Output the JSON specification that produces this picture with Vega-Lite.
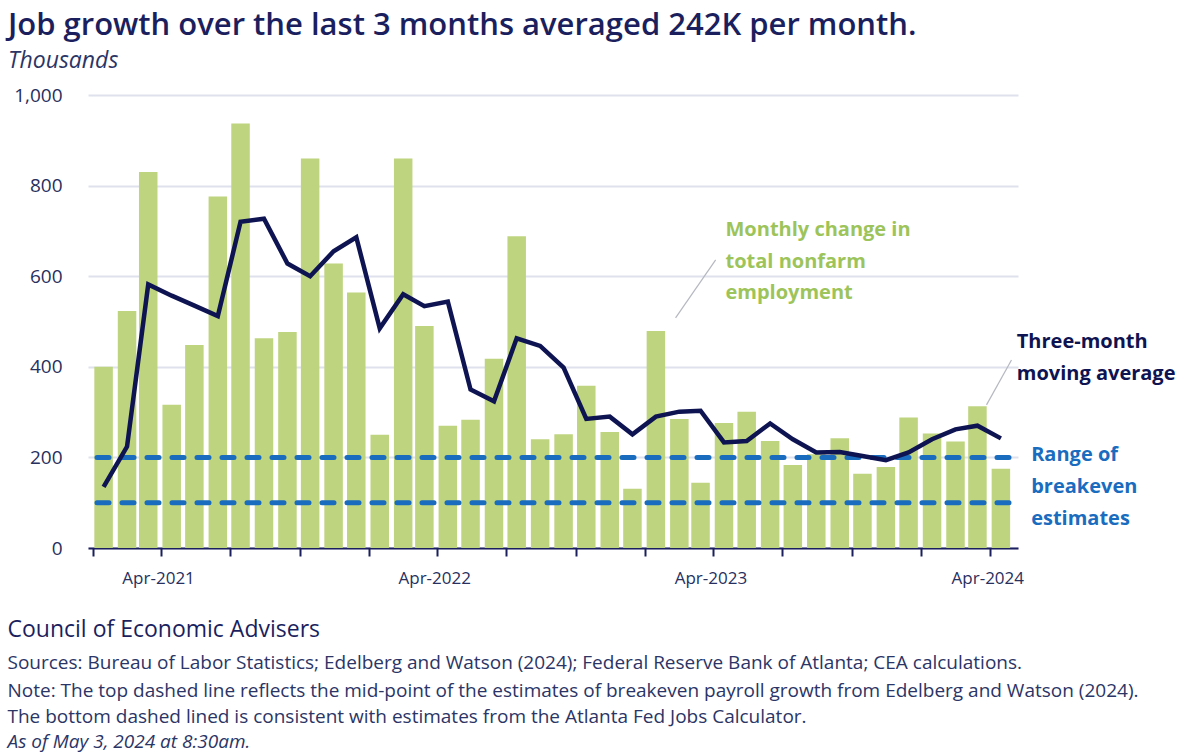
{
  "$schema": "https://vega.github.io/schema/vega-lite/v6.json",
  "autosize": {"type": "none"},
  "padding": {"left": 88, "top": 95, "right": 182, "bottom": 207},
  "width": 930,
  "height": 453,
  "background": "white",
  "config": {
    "view": {"stroke": null},
    "font": "Open Sans"
  },
  "title": {
    "text": "Job growth over the last 3 months averaged 242K per month.",
    "subtitle": "Thousands",
    "anchor": "start",
    "frame": "group",
    "dx": -80,
    "offset": 12,
    "font": "Open Sans",
    "fontSize": 31,
    "fontWeight": 600,
    "color": "#1b1f5e",
    "subtitleFont": "Open Sans",
    "subtitleFontSize": 23,
    "subtitleFontStyle": "italic",
    "subtitleColor": "#2b3566",
    "subtitlePadding": 8
  },
  "encoding": {
    "x": {
      "field": "date",
      "type": "temporal",
      "scale": {
        "type": "utc",
        "nice": false,
        "domain": [
          {"year": 2021, "month": 1, "date": 1, "utc": true},
          {"year": 2024, "month": 5, "date": 1, "utc": true}
        ]
      },
      "axis": {
        "title": null,
        "grid": false,
        "values": [
          {"year": 2021, "month": 1, "date": 1, "utc": true},
          {"year": 2021, "month": 4, "date": 1, "utc": true},
          {"year": 2021, "month": 7, "date": 1, "utc": true},
          {"year": 2021, "month": 10, "date": 1, "utc": true},
          {"year": 2022, "month": 1, "date": 1, "utc": true},
          {"year": 2022, "month": 4, "date": 1, "utc": true},
          {"year": 2022, "month": 7, "date": 1, "utc": true},
          {"year": 2022, "month": 10, "date": 1, "utc": true},
          {"year": 2023, "month": 1, "date": 1, "utc": true},
          {"year": 2023, "month": 4, "date": 1, "utc": true},
          {"year": 2023, "month": 7, "date": 1, "utc": true},
          {"year": 2023, "month": 10, "date": 1, "utc": true},
          {"year": 2024, "month": 1, "date": 1, "utc": true},
          {"year": 2024, "month": 4, "date": 1, "utc": true}
        ],
        "labelExpr": "utcmonth(datum.value) == 3 ? utcFormat(datum.value, '%b-%Y') : ''",
        "labelOverlap": false,
        "labelFlush": false,
        "domainColor": "#1b1f5e",
        "domainWidth": 2,
        "tickColor": "#1b1f5e",
        "tickWidth": 2,
        "tickSize": 8,
        "labelFont": "Open Sans",
        "labelFontSize": 17,
        "labelColor": "#27305e",
        "labelPadding": 14,
        "labelOffset": -3
      }
    },
    "y": {
      "field": "value",
      "type": "quantitative",
      "scale": {"domain": [0, 1000], "nice": false},
      "axis": {
        "title": null,
        "values": [0, 200, 400, 600, 800, 1000],
        "format": ",d",
        "grid": true,
        "gridColor": "#dfe1ec",
        "gridWidth": 2,
        "domain": false,
        "ticks": false,
        "labelPadding": 26,
        "labelFont": "Open Sans",
        "labelFontSize": 19,
        "labelColor": "#27305e"
      }
    }
  },
  "datasets": {
    "jobs": [
      {"date": "2021-01-15", "value": 400, "avg": 135},
      {"date": "2021-02-15", "value": 523, "avg": 224},
      {"date": "2021-03-15", "value": 830, "avg": 582},
      {"date": "2021-04-15", "value": 316, "avg": 557},
      {"date": "2021-05-15", "value": 448, "avg": 535},
      {"date": "2021-06-15", "value": 776, "avg": 512},
      {"date": "2021-07-15", "value": 937, "avg": 720},
      {"date": "2021-08-15", "value": 463, "avg": 727},
      {"date": "2021-09-15", "value": 477, "avg": 628},
      {"date": "2021-10-15", "value": 860, "avg": 600},
      {"date": "2021-11-15", "value": 628, "avg": 655},
      {"date": "2021-12-15", "value": 564, "avg": 686},
      {"date": "2022-01-15", "value": 250, "avg": 485},
      {"date": "2022-02-15", "value": 860, "avg": 560},
      {"date": "2022-03-15", "value": 490, "avg": 534},
      {"date": "2022-04-15", "value": 270, "avg": 544},
      {"date": "2022-05-15", "value": 283, "avg": 350},
      {"date": "2022-06-15", "value": 418, "avg": 324},
      {"date": "2022-07-15", "value": 688, "avg": 463},
      {"date": "2022-08-15", "value": 240, "avg": 446},
      {"date": "2022-09-15", "value": 251, "avg": 398},
      {"date": "2022-10-15", "value": 358, "avg": 285},
      {"date": "2022-11-15", "value": 256, "avg": 290},
      {"date": "2022-12-15", "value": 131, "avg": 251},
      {"date": "2023-01-15", "value": 479, "avg": 290},
      {"date": "2023-02-15", "value": 285, "avg": 301},
      {"date": "2023-03-15", "value": 144, "avg": 303},
      {"date": "2023-04-15", "value": 276, "avg": 233},
      {"date": "2023-05-15", "value": 301, "avg": 236},
      {"date": "2023-06-15", "value": 236, "avg": 275},
      {"date": "2023-07-15", "value": 183, "avg": 240},
      {"date": "2023-08-15", "value": 207, "avg": 211},
      {"date": "2023-09-15", "value": 242, "avg": 212},
      {"date": "2023-10-15", "value": 164, "avg": 203},
      {"date": "2023-11-15", "value": 179, "avg": 194},
      {"date": "2023-12-15", "value": 288, "avg": 211},
      {"date": "2024-01-15", "value": 253, "avg": 240},
      {"date": "2024-02-15", "value": 235, "avg": 262},
      {"date": "2024-03-15", "value": 313, "avg": 270},
      {"date": "2024-04-15", "value": 175, "avg": 242}
    ]
  },
  "layer": [
    {
      "data": {"name": "jobs"},
      "mark": {"type": "bar", "color": "#bed47f", "size": 18.5}
    },
    {
      "data": {"values": [{"value": 200}, {"value": 100}]},
      "mark": {"type": "rule", "color": "#1a6cbf", "strokeWidth": 5, "strokeDash": [12, 13], "strokeCap": "round", "strokeDashOffset": -9},
      "encoding": {"x": null, "y": {"field": "value", "type": "quantitative"}}
    },
    {
      "data": {"name": "jobs"},
      "mark": {"type": "line", "color": "#0e1352", "strokeWidth": 4.5, "strokeJoin": "miter"},
      "encoding": {"y": {"field": "avg", "type": "quantitative"}}
    },
    {
      "data": {"values": [
        {"date": "2023-02-10", "value": 508, "date2": "2023-04-04", "value2": 636},
        {"date": "2024-03-27", "value": 316, "date2": "2024-04-29", "value2": 415}
      ]},
      "mark": {"type": "rule", "color": "#b5b8c0", "strokeWidth": 1.2},
      "encoding": {"x2": {"field": "date2"}, "y2": {"field": "value2"}}
    },
    {
      "data": {"values": [
        {"date": "2023-04-17", "value": 702, "label": "Monthly change in"},
        {"date": "2023-04-17", "value": 631, "label": "total nonfarm"},
        {"date": "2023-04-17", "value": 563, "label": "employment"}
      ]},
      "mark": {"type": "text", "align": "left", "baseline": "middle", "font": "Open Sans", "fontSize": 20, "fontWeight": "bold", "color": "#9cc45a"},
      "encoding": {"text": {"field": "label"}}
    },
    {
      "data": {"values": [
        {"date": "2024-05-06", "value": 455, "label": "Three-month"},
        {"date": "2024-05-06", "value": 384, "label": "moving average"}
      ]},
      "mark": {"type": "text", "align": "left", "baseline": "middle", "font": "Open Sans", "fontSize": 20, "fontWeight": "bold", "color": "#0e1352"},
      "encoding": {"text": {"field": "label"}}
    },
    {
      "data": {"values": [
        {"date": "2024-05-25", "value": 205, "label": "Range of"},
        {"date": "2024-05-25", "value": 135, "label": "breakeven"},
        {"date": "2024-05-25", "value": 64, "label": "estimates"}
      ]},
      "mark": {"type": "text", "align": "left", "baseline": "middle", "font": "Open Sans", "fontSize": 20, "fontWeight": "bold", "color": "#1a6cbf"},
      "encoding": {"text": {"field": "label"}}
    },
    {
      "data": {"values": [
        {"date": "2020-09-10", "value": -181, "label": "Council of Economic Advisers"}
      ]},
      "mark": {"type": "text", "align": "left", "baseline": "middle", "font": "Open Sans", "fontSize": 23, "color": "#1b1f5e"},
      "encoding": {"text": {"field": "label"}}
    },
    {
      "data": {"values": [
        {"date": "2020-09-10", "value": -254, "label": "Sources: Bureau of Labor Statistics; Edelberg and Watson (2024); Federal Reserve Bank of Atlanta; CEA calculations."},
        {"date": "2020-09-10", "value": -316, "label": "Note: The top dashed line reflects the mid-point of the estimates of breakeven payroll growth from Edelberg and Watson (2024)."},
        {"date": "2020-09-10", "value": -374, "label": "The bottom dashed lined is consistent with estimates from the Atlanta Fed Jobs Calculator."}
      ]},
      "mark": {"type": "text", "align": "left", "baseline": "middle", "font": "Open Sans", "fontSize": 19, "color": "#2b3566"},
      "encoding": {"text": {"field": "label"}}
    },
    {
      "data": {"values": [
        {"date": "2020-09-10", "value": -428, "label": "As of May 3, 2024 at 8:30am."}
      ]},
      "mark": {"type": "text", "align": "left", "baseline": "middle", "font": "Open Sans", "fontSize": 19, "fontStyle": "italic", "color": "#2b3566"},
      "encoding": {"text": {"field": "label"}}
    }
  ]
}
